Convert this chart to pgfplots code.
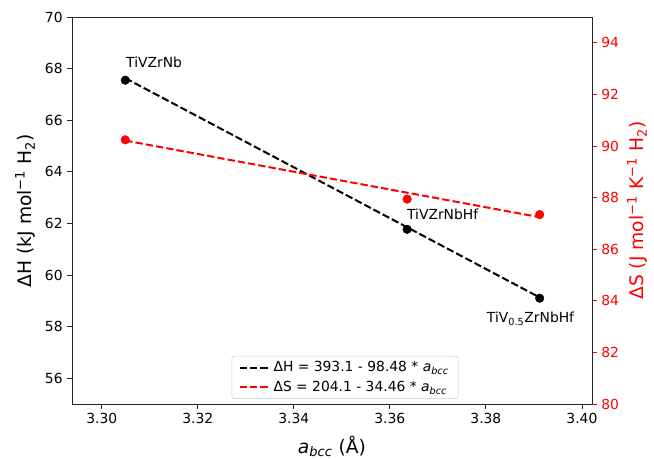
\documentclass[border=0pt]{standalone}
\usepackage{fontspec}
\setmainfont{DejaVu Sans}
\usepackage{pgfplots}
\pgfplotsset{compat=1.18}
\definecolor{mplred}{RGB}{255,0,0}
\newcommand{\abcc}{\textit{a}\textsubscript{\textit{bcc}}}
\begin{document}
\begin{tikzpicture}
\pgfplotsset{every axis/.append style={
  scale only axis, width=390pt, height=290.25pt,
  xmin=3.2938, xmax=3.4021,
  /pgf/number format/assume math mode=true,
  axis line style={line width=0.6pt, black!85},
  tick style={line width=0.6pt},
  major tick length=3.5pt,
  tick align=outside,
  tick label style={font=\fontsize{10.4}{12}\selectfont},
}}
\begin{axis}[name=ax,
  ymin=55, ymax=70,
  ytick={56,58,60,62,64,66,68,70},
  xtick={3.30,3.32,3.34,3.36,3.38,3.40},
  xticklabel style={/pgf/number format/.cd, fixed, fixed zerofill, precision=2},
  xtick pos=bottom, ytick pos=left,
  tick style={black!85},
  xlabel={\abcc{} (Å)},
  ylabel={ΔH (kJ mol\textsuperscript{−1} H\textsubscript{2})},
  every axis x label/.style={at={(rel axis cs:0.5,0)}, yshift=-32pt, anchor=center, font=\fontsize{14}{16}\selectfont},
  every axis y label/.style={at={(rel axis cs:0,0.5)}, xshift=-35pt, anchor=center, rotate=90, font=\fontsize{14}{16}\selectfont},
  legend style={at={(0.525,0.013)}, anchor=south, font=\fontsize{10.4}{12}\selectfont,
    draw=black!20, rounded corners=2pt, fill=white, fill opacity=0.8, text opacity=1,
    inner xsep=5pt, inner ysep=2pt, row sep=1.5pt,
    /tikz/every even column/.append style={column sep=4pt}},
  legend cell align=left,
  legend image code/.code={\draw[#1] (0cm,0cm) -- (0.8cm,0cm);},
]
\addlegendimage{black, line width=1.5pt, dash pattern=on 5.5pt off 2.3pt}
\addlegendentry{ΔH = 393.1 - 98.48 * \abcc}
\addlegendimage{mplred, line width=1.5pt, dash pattern=on 5.5pt off 2.3pt}
\addlegendentry{ΔS = 204.1 - 34.46 * \abcc}
\addplot[forget plot, black, line width=1.5pt, dash pattern=on 5.5pt off 2.3pt] coordinates {(3.3049,67.63) (3.3912,59.13)};
\addplot[forget plot, only marks, mark=*, mark size=3.2pt, black] coordinates {(3.3049,67.55) (3.3636,61.77) (3.3912,59.10)};
\node[font=\fontsize{10.4}{12}\selectfont] at (axis cs:3.3109,68.25) {TiVZrNb};
\node[font=\fontsize{10.4}{12}\selectfont] at (axis cs:3.3710,62.35) {TiVZrNbHf};
\node[font=\fontsize{10.4}{12}\selectfont] at (axis cs:3.3893,58.31) {TiV\textsubscript{0.5}ZrNbHf};
\end{axis}
\begin{axis}[
  ymin=80, ymax=95,
  ytick={80,82,84,86,88,90,92,94},
  axis x line=none, axis y line*=right,
  y tick style={mplred},
  yticklabel style={mplred},
  ylabel={ΔS (J mol\textsuperscript{−1} K\textsuperscript{−1} H\textsubscript{2})},
  every axis y label/.style={at={(rel axis cs:1,0.5)}, xshift=34pt, anchor=center, rotate=90, color=mplred, font=\fontsize{14}{16}\selectfont},
]
\addplot[mplred, line width=1.5pt, dash pattern=on 5.5pt off 2.3pt] coordinates {(3.3049,90.21) (3.3912,87.24)};
\addplot[only marks, mark=*, mark size=3.2pt, mplred] coordinates {(3.3049,90.24) (3.3636,87.94) (3.3912,87.34)};
\end{axis}
\pgfresetboundingbox
\path ([shift={(-54pt,-41.25pt)}]ax.south west) rectangle ([shift={(46.5pt,12.75pt)}]ax.north east);
\end{tikzpicture}
\end{document}
